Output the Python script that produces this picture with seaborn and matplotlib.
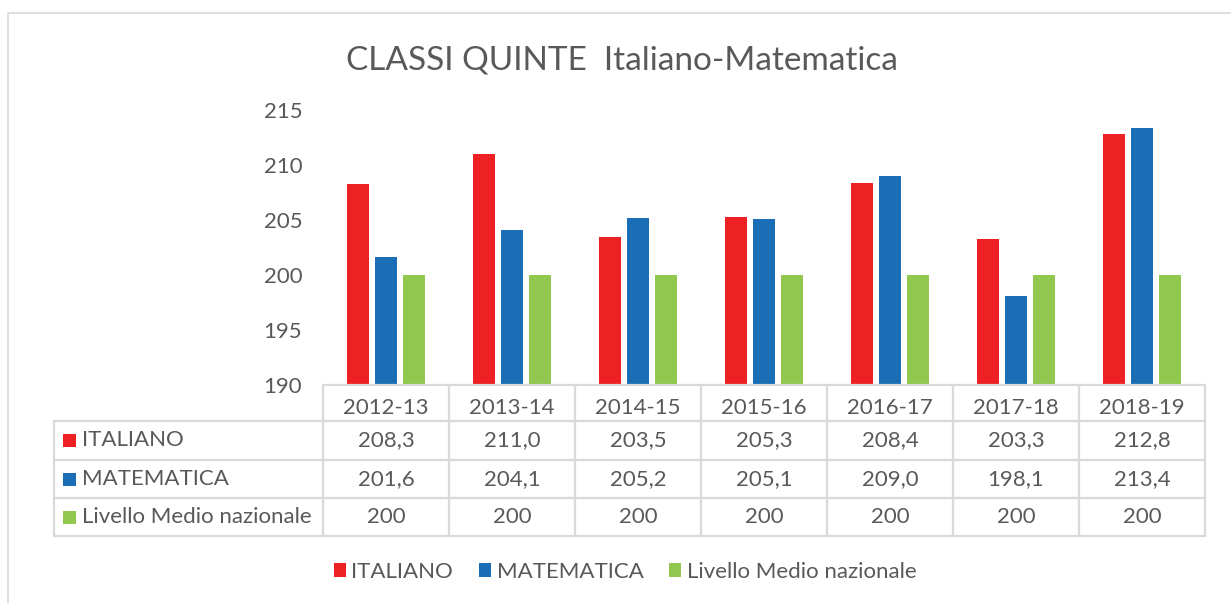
import pandas as pd
import seaborn as sns
import matplotlib.pyplot as plt
from matplotlib.patches import Rectangle
from matplotlib.lines import Line2D

years = ['2012-13', '2013-14', '2014-15', '2015-16', '2016-17', '2017-18', '2018-19']
italiano = [208.3, 211.0, 203.5, 205.3, 208.4, 203.3, 212.8]
matematica = [201.6, 204.1, 205.2, 205.1, 209.0, 198.1, 213.4]
livello = [200, 200, 200, 200, 200, 200, 200]
series = ['ITALIANO', 'MATEMATICA', 'Livello Medio nazionale']
colors = ['#ED2024', '#1B6DB5', '#92C84F']

df = pd.DataFrame({
    'anno': years * 3,
    'serie': [series[0]] * 7 + [series[1]] * 7 + [series[2]] * 7,
    'valore': italiano + matematica + livello,
})

sns.set_style('white')
plt.rcParams['font.family'] = ['Lato', 'DejaVu Sans']
gray = '#595959'
line_c = '#D9D9D9'
fs = 16

W, H = 1231, 603
fig = plt.figure(figsize=(W / 100, H / 100), dpi=100)


def fx(x):
    return x / W


def fy(y):
    return 1 - y / H


# outer chart border
fig.add_artist(Rectangle((fx(8), fy(640)), fx(1300), fy(13) - fy(640), transform=fig.transFigure,
                         fill=False, edgecolor=line_c, linewidth=1.2))

ax = fig.add_axes([fx(323), fy(385), fx(1205 - 323), fy(110) - fy(385)])
sns.barplot(data=df, x='anno', y='valore', hue='serie', hue_order=series, palette=colors,
            saturation=1, width=0.667, gap=0.18, linewidth=0, legend=False, ax=ax)
ax.set_ylim(190, 215)
ax.set_xlim(-0.5, 6.5)
ax.set_yticks([190, 195, 200, 205, 210, 215])
ax.set_xlabel('')
ax.set_ylabel('')
ax.tick_params(axis='y', length=0, pad=15, labelsize=fs, labelcolor=gray)
ax.tick_params(axis='x', length=0, pad=9, labelsize=fs, labelcolor=gray)
sns.despine(ax=ax, left=True, right=True, top=True, bottom=True)

fig.text(fx(622), fy(60), 'CLASSI QUINTE  Italiano-Matematica', ha='center', va='center',
         fontsize=24, color=gray)

# data table
col_x = [323 + 126 * i for i in range(8)]
col_x[-1] = 1205
rows_y = [385, 421, 460, 498, 536]


def hline(x0, x1, y):
    fig.add_artist(Line2D([fx(x0), fx(x1)], [fy(y), fy(y)], transform=fig.transFigure,
                          color=line_c, linewidth=1.6))


def vline(x, y0, y1):
    fig.add_artist(Line2D([fx(x), fx(x)], [fy(y0), fy(y1)], transform=fig.transFigure,
                          color=line_c, linewidth=1.6))


hline(323, 1205, 385)
for y in rows_y[1:]:
    hline(54, 1205, y)
for x in col_x:
    vline(x, 385, 536)
vline(54, 421, 536)


def fmt(v):
    if v == 200:
        return str(v)
    return f'{v:.1f}'.replace('.', ',')


table = [italiano, matematica, livello]
for r, (name, vals, c) in enumerate(zip(series, table, colors)):
    yc = (rows_y[r + 1] + rows_y[r + 2]) / 2
    fig.add_artist(Rectangle((fx(63), fy(yc + 6.5)), fx(13), fy(yc - 6.5) - fy(yc + 6.5),
                             transform=fig.transFigure, facecolor=c, edgecolor='none'))
    fig.text(fx(82), fy(yc), name, ha='left', va='center', fontsize=fs, color=gray)
    for i, v in enumerate(vals):
        xc = (col_x[i] + col_x[i + 1]) / 2
        fig.text(fx(xc), fy(yc), fmt(v), ha='center', va='center', fontsize=fs, color=gray)

handles = [Rectangle((0, 0), 1, 1, facecolor=c, edgecolor='none') for c in colors]
fig.legend(handles, series, loc='center', bbox_to_anchor=(fx(625), fy(572)), ncol=3,
           frameon=False, fontsize=fs, labelcolor=gray, handlelength=0.55, handleheight=0.55,
           handletextpad=0.25, columnspacing=1.15)

fig.savefig('out.png', dpi=100)
